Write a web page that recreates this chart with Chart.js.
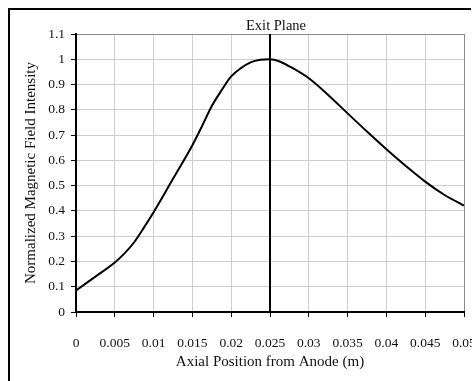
<!DOCTYPE html>
<html>
<head>
<meta charset="utf-8">
<script src="https://cdn.jsdelivr.net/npm/chart.js@4/dist/chart.umd.min.js"></script>
<style>
  html, body { margin: 0; padding: 0; background: #fff; overflow: hidden; }
  #wrap { position: absolute; left: 0; top: 0; width: 520px; height: 400px; }
</style>
</head>
<body>
<div id="wrap"><canvas id="field-chart"></canvas></div>
<script>
// axial position (m) and normalized field
const axialPositions = [0, 0.0025, 0.005, 0.00625, 0.0075, 0.00875, 0.01, 0.01125, 0.0125, 0.015,
  0.01625, 0.0175, 0.01875, 0.02, 0.02125, 0.0225, 0.02375, 0.025, 0.02625, 0.0275, 0.03, 0.0325,
  0.035, 0.0375, 0.04, 0.0425, 0.045, 0.0475, 0.05];
const fieldIntensity = [0.085, 0.140, 0.196, 0.232, 0.276, 0.334, 0.395, 0.460, 0.527, 0.660,
  0.736, 0.815, 0.877, 0.932, 0.965, 0.988, 0.998, 1.0, 0.991, 0.972, 0.925, 0.859,
  0.786, 0.714, 0.644, 0.578, 0.516, 0.463, 0.421];

const exitPlanePosition = 0.025;
const exitPlaneLabel = 'Exit Plane';

const xTickLabels = ['0', '0.005', '0.01', '0.015', '0.02', '0.025', '0.03', '0.035', '0.04', '0.045', '0.05'];
const yTickLabels = ['0', '0.1', '0.2', '0.3', '0.4', '0.5', '0.6', '0.7', '0.8', '0.9', '1', '1.1'];

const serif = "'Liberation Serif', 'DejaVu Serif', serif";
const textColor = '#111';

// outer frame (only left/top are inside the window) + the exit plane caption
const framePlugin = {
  id: 'frame',
  beforeDraw(chart) {
    const ctx = chart.ctx;
    ctx.save();
    ctx.strokeStyle = '#000';
    ctx.lineWidth = 2;
    ctx.beginPath();
    ctx.moveTo(9, chart.height);
    ctx.lineTo(9, 9);
    ctx.lineTo(471, 9);
    ctx.stroke();
    ctx.restore();
  },
  afterDraw(chart) {
    const ctx = chart.ctx;
    const x = chart.scales.x.getPixelForValue(exitPlanePosition);
    ctx.save();
    ctx.font = '14.5px ' + serif;
    ctx.fillStyle = textColor;
    ctx.textAlign = 'center';
    ctx.textBaseline = 'middle';
    ctx.fillText(exitPlaneLabel, x + 6, 26);
    ctx.restore();
  }
};

const app = () => {
  new Chart(document.getElementById('field-chart'), {
    type: 'line',
    data: {
      datasets: [{
        data: axialPositions.map((x, i) => ({ x: x, y: fieldIntensity[i] })),
        borderColor: '#000',
        borderWidth: 2,
        pointRadius: 0,
        cubicInterpolationMode: 'monotone',
        fill: false
      }, {
        data: [{ x: exitPlanePosition, y: 0 }, { x: exitPlanePosition, y: 1.1 }],
        borderColor: '#000',
        borderWidth: 2,
        pointRadius: 0,
        fill: false
      }]
    },
    options: {
      responsive: true,
      maintainAspectRatio: false,
      animation: false,
      plugins: { legend: { display: false }, tooltip: { enabled: false } },
      layout: { padding: { left: 20, top: 34, right: 56, bottom: 0 } },
      scales: {
        x: {
          type: 'linear',
          min: 0,
          max: 0.05,
          afterFit: s => { s.height = 88; },
          ticks: {
            stepSize: 0.005,
            autoSkip: false,
            maxRotation: 0,
            padding: 18,
            color: textColor,
            font: { family: serif, size: 13.5 },
            callback: (v, i) => xTickLabels[i]
          },
          grid: {
            color: c => c.index === xTickLabels.length - 1 ? '#8a8a8a' : '#cdcdcd',
            tickColor: '#000',
            tickLength: 5,
            lineWidth: 1
          },
          border: { color: '#000', width: 2 },
          title: {
            display: true,
            text: 'Axial Position from Anode (m)',
            color: textColor,
            font: { family: serif, size: 15 },
            padding: { top: 0, bottom: 29 }
          }
        },
        y: {
          min: 0,
          max: 1.1,
          afterFit: s => { s.width = 56; },
          ticks: {
            stepSize: 0.1,
            padding: 6,
            color: textColor,
            font: { family: serif, size: 13.5 },
            callback: (v, i) => yTickLabels[i]
          },
          grid: {
            color: c => c.index === yTickLabels.length - 1 ? '#8a8a8a' : '#cdcdcd',
            tickColor: '#000',
            tickLength: 5,
            lineWidth: 1
          },
          border: { color: '#000', width: 2 },
          title: {
            display: true,
            text: 'Normalized Magnetic Field Intensity',
            color: textColor,
            font: { family: serif, size: 15 },
            padding: { top: 2, bottom: 0 }
          }
        }
      }
    },
    plugins: [framePlugin]
  });
};

app();
</script>
</body>
</html>
